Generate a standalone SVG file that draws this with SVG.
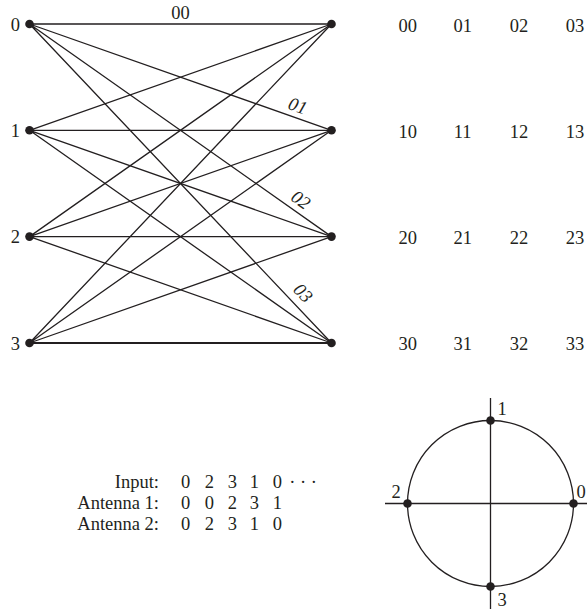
<svg xmlns="http://www.w3.org/2000/svg" width="587" height="609" viewBox="0 0 587 609">
<style>
text{font-family:"Liberation Serif","Times New Roman",serif;font-size:18.5px;fill:#231f20}
.e{stroke:#231f20;stroke-width:1.3;fill:none}
.d{fill:#231f20}
.m{text-anchor:middle}
.r{text-anchor:end}
.i{font-style:italic}
</style>
<rect width="587" height="609" fill="#fff"/>
<g id="connectors">
<path class="e" d="M29.5 24L331.5 24M29.5 24L331.5 130.3M29.5 24L331.5 236.6M29.5 24L331.5 343"/>
<path class="e" d="M29.5 130.3L331.5 24M29.5 130.3L331.5 130.3M29.5 130.3L331.5 236.6M29.5 130.3L331.5 343"/>
<path class="e" d="M29.5 236.6L331.5 24M29.5 236.6L331.5 130.3M29.5 236.6L331.5 236.6M29.5 236.6L331.5 343"/>
<path class="e" d="M29.5 343L331.5 24M29.5 343L331.5 130.3M29.5 343L331.5 236.6"/>
<path class="e" style="stroke-width:1.8" d="M29.5 343L331.5 343"/>
<text class="m" x="180.5" y="19">00</text>
<text class="m i" transform="translate(297.7,106) rotate(19.3)" y="6">01</text>
<text class="m i" transform="translate(300.7,200) rotate(35)" y="6">02</text>
<text class="m i" transform="translate(303,293) rotate(46.5)" y="6">03</text>
</g>
<g id="L0"><circle class="d" cx="29.5" cy="24" r="4.3"/><text class="r" x="20" y="30.5">0</text></g>
<g id="L1"><circle class="d" cx="29.5" cy="130.3" r="4.3"/><text class="r" x="20" y="136.8">1</text></g>
<g id="L2"><circle class="d" cx="29.5" cy="236.6" r="4.3"/><text class="r" x="20" y="243">2</text></g>
<g id="L3"><circle class="d" cx="29.5" cy="343" r="4.3"/><text class="r" x="20" y="349.5">3</text></g>
<g id="R0"><circle class="d" cx="331.5" cy="24" r="4.3"/></g>
<g id="R1"><circle class="d" cx="331.5" cy="130.3" r="4.3"/></g>
<g id="R2"><circle class="d" cx="331.5" cy="236.6" r="4.3"/></g>
<g id="R3"><circle class="d" cx="331.5" cy="343" r="4.3"/></g>
<g id="grid">
<text class="m" x="407.7" y="32">00</text><text class="m" x="462.7" y="32">01</text><text class="m" x="519" y="32">02</text><text class="m" x="575" y="32">03</text>
<text class="m" x="407.7" y="138">10</text><text class="m" x="462.7" y="138">11</text><text class="m" x="519" y="138">12</text><text class="m" x="575" y="138">13</text>
<text class="m" x="407.7" y="243.5">20</text><text class="m" x="462.7" y="243.5">21</text><text class="m" x="519" y="243.5">22</text><text class="m" x="575" y="243.5">23</text>
<text class="m" x="407.7" y="349.5">30</text><text class="m" x="462.7" y="349.5">31</text><text class="m" x="519" y="349.5">32</text><text class="m" x="575" y="349.5">33</text>
</g>
<g id="table">
<text class="r" x="159" y="488">Input:</text>
<text class="r" x="159" y="509">Antenna 1:</text>
<text class="r" x="159" y="530">Antenna 2:</text>
<text class="m" x="185.7" y="488">0</text><text class="m" x="209.3" y="488">2</text><text class="m" x="232.3" y="488">3</text><text class="m" x="254.3" y="488">1</text><text class="m" x="277.3" y="488">0</text><text class="m" x="303" y="488">· · ·</text>
<text class="m" x="185.7" y="509">0</text><text class="m" x="209.3" y="509">0</text><text class="m" x="232.3" y="509">2</text><text class="m" x="254.3" y="509">3</text><text class="m" x="277.3" y="509">1</text>
<text class="m" x="185.7" y="530">0</text><text class="m" x="209.3" y="530">2</text><text class="m" x="232.3" y="530">3</text><text class="m" x="254.3" y="530">1</text><text class="m" x="277.3" y="530">0</text>
</g>
<g id="constellation">
<circle class="e" cx="490.5" cy="503.5" r="83"/>
<path class="e" d="M385 503.5L587 503.5M490.5 398L490.5 609"/>
<circle class="d" cx="490.5" cy="420.5" r="4.3"/>
<circle class="d" cx="407.5" cy="503.5" r="4.3"/>
<circle class="d" cx="573.5" cy="503.5" r="4.3"/>
<circle class="d" cx="490.5" cy="586.5" r="4.3"/>
<text class="m" x="502" y="415">1</text>
<text class="m" x="396" y="497.5">2</text>
<text class="m" x="581" y="497.5">0</text>
<text class="m" x="502" y="606">3</text>
</g>
</svg>
